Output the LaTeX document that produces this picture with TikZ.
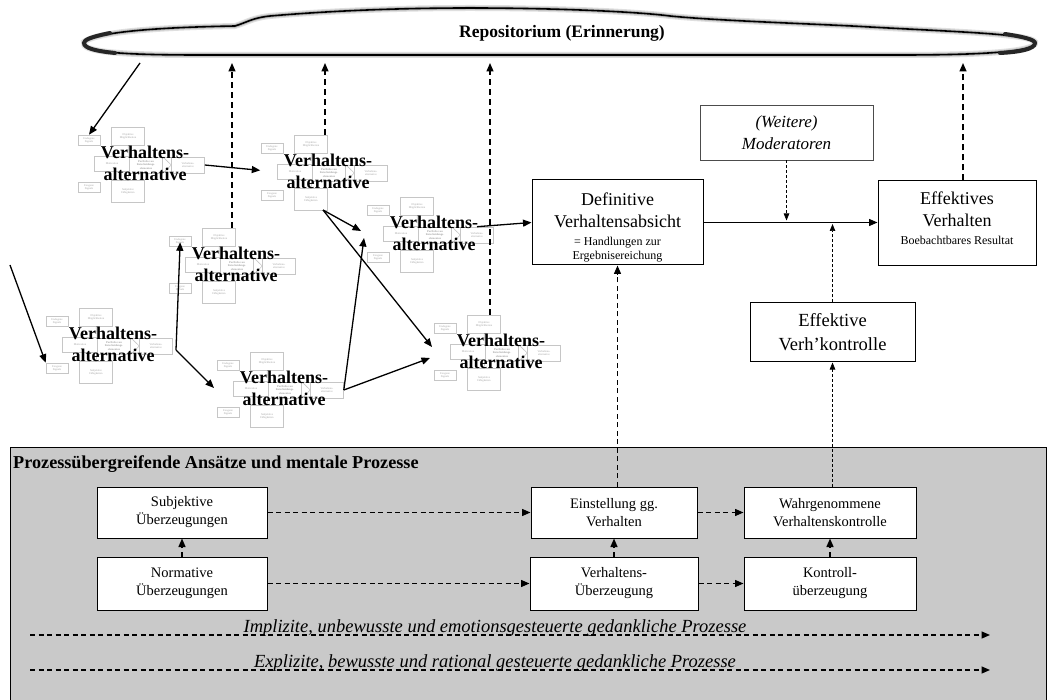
\documentclass[tikz,border=0pt]{standalone}
\usepackage{fontspec}
\setmainfont{Liberation Serif}
\usetikzlibrary{arrows.meta}
\definecolor{panelgray}{RGB}{201,201,201}
\newcommand\fs[2]{\fontsize{#1}{#2}\selectfont}
\tikzset{
  tip/.style={-{Triangle[length=8.5pt,width=7pt]}},
  solidarr/.style={tip, line width=1.3pt},
  bolddash/.style={tip, line width=1.4pt, dash pattern=on 6pt off 4pt},
  paneldash/.style={tip, line width=1.4pt, dash pattern=on 5pt off 3.5pt},
  thindash/.style={-{Triangle[length=7pt,width=5.5pt]}, line width=0.7pt, dash pattern=on 3pt off 2pt},
  mainbox/.style={draw, line width=1pt, fill=white, align=center, inner sep=0pt},
  panelbox/.style={mainbox, font=\fs{14.5}{18}},
  sbox/.style={draw=gray!45, line width=0.6pt, fill=white, text=gray!70, font=\fs{2.8}{3.2}, align=center, inner sep=0.5pt},
  bigtxt/.style={font=\fs{18}{22}\bfseries, align=center, inner sep=0pt},
}
\newcommand\vcluster[3]{%
 \begin{scope}[shift={(#2,#3)}]
  \node[sbox, minimum width=22pt, minimum height=10pt] (#1en) at (-56,-23) {Endogene\\Signale};
  \node[sbox, minimum width=33pt, minimum height=18pt] (#1ob) at (-17,-27) {Objektive\\Möglichkeiten};
  \node[sbox, minimum width=35pt, minimum height=15pt] (#1mo) at (-33,1) {Motivation};
  \node[sbox, minimum width=33pt, minimum height=16pt] (#1pf) at (1,2) {\textbf{Portfolio von}\\\textbf{Entscheidungs-}\\\textbf{elementen}};
  \node[sbox, minimum width=33pt, minimum height=16pt] (#1va) at (43,2) {Verhaltens-\\alternative};
  \node[sbox, minimum width=22pt, minimum height=10pt] (#1ex) at (-56,24) {Exogene\\Signale};
  \node[sbox, minimum width=33pt, minimum height=22pt] (#1sf) at (-17,28) {Subjektive\\Fähigkeiten};
  \draw[gray!45, line width=0.6pt] (#1pf.north east) -- (#1va.west) -- (#1pf.south east);
  \draw[gray!45, line width=0.6pt] (#1ob.south) -- (#1pf.north west) (#1sf.north) -- (#1pf.south west);
  \node[bigtxt] (#1) at (0,0) {Verhaltens-\\alternative};
 \end{scope}}
\newcommand\cloudpath{(84,42) .. controls (99,30) and (180,27) .. (235,26)
 .. controls (248,22) and (252,18) .. (270,16)
 .. controls (340,10) and (410,8) .. (470,8)
 .. controls (560,8) and (640,12) .. (670,16)
 .. controls (720,21) and (820,24) .. (870,27)
 .. controls (960,32) and (1030,34) .. (1035,42)
 .. controls (1038,52) and (980,55) .. (900,55)
 -- (200,55) .. controls (120,55) and (80,52) .. (84,42) -- cycle}
\begin{document}
\begin{tikzpicture}[x=1pt,y=-1pt]
\useasboundingbox (0,0) rectangle (1049,700);

% bottom panel
\draw[fill=panelgray, line width=0.8pt] (10,447) rectangle (1046,705);
\node[anchor=west, font=\fs{18.2}{20}\bfseries, inner sep=0pt] (ptitle) at (13,464) {Prozessübergreifende Ansätze und mentale Prozesse};

% cloud
\coordinate (cb) at (0,63);
\fill[white] \cloudpath;
\draw[line width=6pt, gray!25] \cloudpath;
\draw[line width=3.5pt, gray!55] \cloudpath;
\draw[line width=1.6pt, black] \cloudpath;
\draw[line width=4pt, black!85, line cap=round] (110,33) .. controls (90,37) and (84,40) .. (84,43) .. controls (84,48) and (95,51) .. (115,53);
\draw[line width=4pt, black!85, line cap=round] (1005,34) .. controls (1025,37) and (1035,40) .. (1035,43) .. controls (1035,49) and (1020,52) .. (1000,53);
\node[font=\fs{17.5}{20}\bfseries] (repo) at (562,33) {Repositorium (Erinnerung)};

% clusters
\vcluster{c1}{145}{163}
\vcluster{c2}{328}{171}
\vcluster{c3}{236}{264}
\vcluster{c4}{434}{233}
\vcluster{c5}{501}{351}
\vcluster{c6}{284}{388}
\vcluster{c7}{113}{344}

% right boxes
\node[mainbox, minimum width=171pt, minimum height=85pt, font=\fs{18}{22}] (def) at (617.5,222.5)
  {{}\\Definitive\\Verhaltensabsicht\\[-4pt]\fs{12}{14}= Handlungen zur\\[-8pt]\fs{12}{14}Ergebnisereichung};
\node[mainbox, minimum width=158pt, minimum height=85pt, font=\fs{18}{22}] (ev) at (957,223.5)
  {Effektives\\Verhalten\\[-4pt]\fs{12}{14}Boebachtbares Resultat\\[-12pt]{}};
\node[mainbox, draw=black!70, line width=0.6pt, minimum width=173pt, minimum height=55pt, font=\fs{17}{22}\itshape] (mod) at (786.5,132.5)
  {(Weitere)\\Moderatoren};
\node[mainbox, minimum width=165pt, minimum height=59pt, font=\fs{18.5}{24}] (evk) at (832.5,332.5)
  {Effektive\\Verh'kontrolle};

% panel boxes
\node[panelbox, minimum width=170pt, minimum height=51pt] (sub) at (182,512.5) {Subjektive\\Überzeugungen};
\node[panelbox, minimum width=170pt, minimum height=53pt] (norm) at (182,583.5) {Normative\\Überzeugungen};
\node[panelbox, minimum width=166pt, minimum height=51pt] (einst) at (614,512.5) {Einstellung gg.\\Verhalten};
\node[panelbox, minimum width=168pt, minimum height=53pt] (vue) at (614,583.5) {Verhaltens-\\Überzeugung};
\node[panelbox, minimum width=172pt, minimum height=51pt] (wahr) at (830,512.5) {Wahrgenommene\\Verhaltenskontrolle};
\node[panelbox, minimum width=172pt, minimum height=53pt] (kon) at (830,583.5) {Kontroll-\\überzeugung};

% cluster connectors
\coordinate (cl) at (140,63);
\coordinate (lf) at (10,265);
\coordinate (j1) at (176,350);
\coordinate (j2) at (323,210);
\coordinate (t6) at (214,388);
\coordinate (t4a) at (361,231);
\coordinate (t4b) at (364,238);
\coordinate (t5a) at (432,347);
\coordinate (t5b) at (430,358);
\draw[solidarr] (cl) -- (c1en.north);
\draw[solidarr, shorten >=17pt] (c1va.east) -- (c2mo.west);
\draw[solidarr] (lf) -- (c7ex.north west);
\draw[solidarr, shorten >=-4pt] (j1) -- (c3en.south);
\draw[solidarr] (j1) -- (t6);
\draw[solidarr] (j2) -- (t4a);
\draw[solidarr] (j2) -- (t5a);
\draw[solidarr] (c6va.east) -- (t4b);
\draw[solidarr] (c6va.east) -- (t5b);
\draw[solidarr] (c4va.north) -- (def.west);

% dashed to repository
\draw[bolddash] ([xshift=14pt]c2ob.north) -- ([xshift=14pt]c2ob.north |- cb);
\draw[bolddash] ([xshift=13pt]c3ob.north) -- ([xshift=13pt]c3ob.north |- cb);
\draw[bolddash] ([xshift=6pt]c5ob.north) -- ([xshift=6pt]c5ob.north |- cb);
\draw[bolddash] ([xshift=6pt]ev.north) -- ([xshift=6pt]ev.north |- cb);

% right side connectors
\draw[solidarr] (def.east) -- (def.east -| ev.west);
\draw[thindash, shorten >=2pt] (mod.south) -- (mod.south |- def.east);
\draw[thindash, shorten >=1.5pt] (evk.north) -- (evk.north |- def.east);
\draw[thindash] (evk.south |- wahr.north) -- (evk.south);
\draw[paneldash] (def.south |- einst.north) -- (def.south);

% panel connectors
\draw[paneldash] (sub.east) -- (einst.west);
\draw[paneldash] (norm.east) -- (vue.west);
\draw[paneldash] (einst.east) -- (wahr.west);
\draw[paneldash] (vue.east) -- (kon.west);
\draw[paneldash] (norm.north) -- (sub.south);
\draw[paneldash] (vue.north) -- (einst.south);
\draw[paneldash] (kon.north) -- (wahr.south);

\coordinate (i0) at (30,635);
\coordinate (i1) at (990,635);
\coordinate (e0) at (30,670);
\coordinate (e1) at (990,670);
\draw[paneldash] (i0) -- (i1);
\draw[paneldash] (e0) -- (e1);
\node[anchor=base, font=\fs{18.5}{20}\itshape, inner sep=0pt] (impl) at (495,632) {Implizite, unbewusste und emotionsgesteuerte gedankliche Prozesse};
\node[anchor=base, font=\fs{18.5}{20}\itshape, inner sep=0pt] (expl) at (495,667) {Explizite, bewusste und rational gesteuerte gedankliche Prozesse};
\end{tikzpicture}
\end{document}
